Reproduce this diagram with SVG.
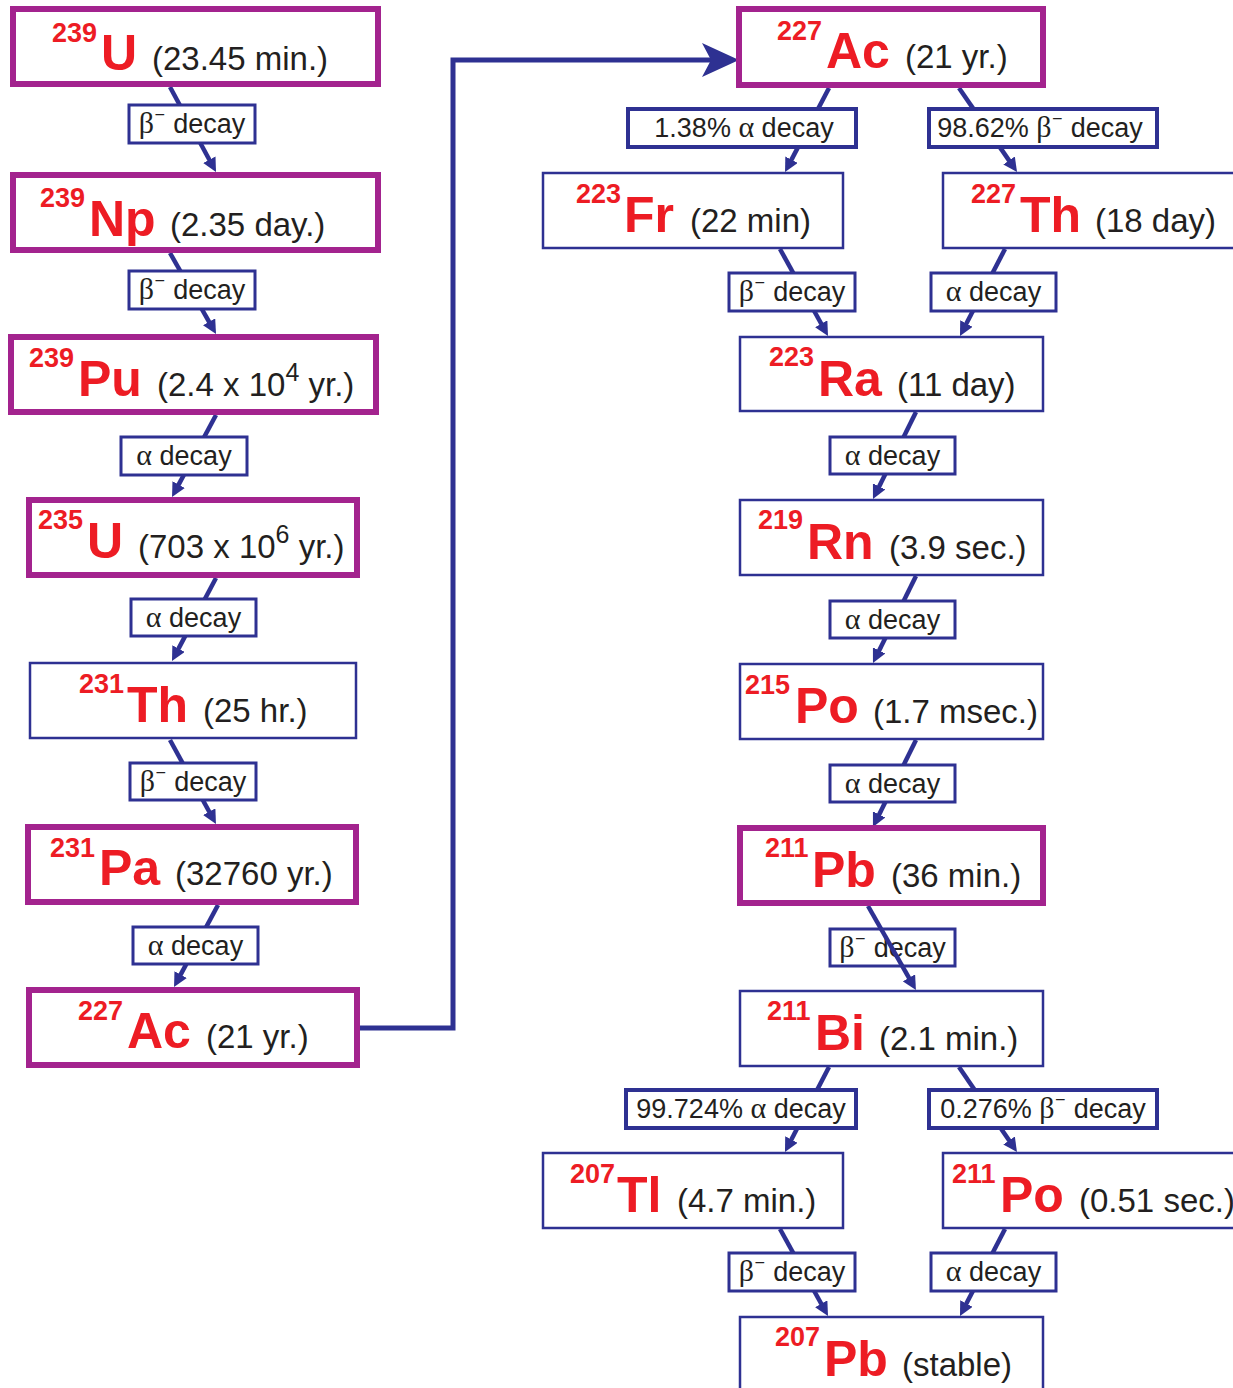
<svg xmlns="http://www.w3.org/2000/svg" width="1233" height="1388" viewBox="0 0 1233 1388">
<style>
.pn{fill:#fff;stroke:#A3238E;stroke-width:6}
.bn{fill:#fff;stroke:#2E3192;stroke-width:2.5}
.lb{fill:#fff;stroke:#2E3192;stroke-width:3}
.lb2{fill:#fff;stroke:#2E3192;stroke-width:4}
.m{font-family:"Liberation Sans",Arial,sans-serif;font-weight:bold;font-size:27px;fill:#ED1C24}
.s{font-family:"Liberation Sans",Arial,sans-serif;font-weight:bold;font-size:50px;fill:#ED1C24}
.t{font-family:"Liberation Sans",Arial,sans-serif;font-size:33px;fill:#231F20}
.l{font-family:"Liberation Sans",Arial,sans-serif;font-size:27px;fill:#231F20;text-anchor:middle}
.g{font-family:"Liberation Serif","DejaVu Serif",serif;font-size:30px}
.sm{font-family:"DejaVu Sans",sans-serif;font-weight:bold;font-size:22px}
.c{fill:none;stroke:#2E3192;stroke-width:4.5;marker-end:url(#ah)}
</style>
<defs>
<marker id="ah" markerUnits="userSpaceOnUse" viewBox="0 0 14 14" markerWidth="14" markerHeight="14" refX="2" refY="7" orient="auto">
<path d="M0,0 L14,7 L0,14 Z" fill="#2E3192"/>
</marker>
</defs>

<g id="connectors">
<line class="c" x1="170" y1="87" x2="210.3" y2="161.5"/>
<line class="c" x1="170" y1="253" x2="210.1" y2="323.6"/>
<line class="c" x1="216" y1="415" x2="177.7" y2="486.4"/>
<line class="c" x1="216" y1="578" x2="177.6" y2="650.4"/>
<line class="c" x1="170" y1="740" x2="210.2" y2="813.5"/>
<line class="c" x1="218" y1="905" x2="179.7" y2="976.4"/>
<path d="M357,1028 H453 V60 H712" fill="none" stroke="#2E3192" stroke-width="5"/>
<polygon points="739,60 702,43 711,60 702,77" fill="#2E3192"/>
<line class="c" x1="829" y1="88" x2="790.6" y2="161.4"/>
<line class="c" x1="959" y1="88" x2="1010.2" y2="162.1"/>
<line class="c" x1="780" y1="249" x2="822.2" y2="325.5"/>
<line class="c" x1="1005" y1="249" x2="965.5" y2="325.3"/>
<line class="c" x1="916" y1="412" x2="878.3" y2="488.2"/>
<line class="c" x1="916" y1="576" x2="878.3" y2="652.2"/>
<line class="c" x1="916" y1="740" x2="878.3" y2="816.2"/>
<line class="c" x1="829" y1="1067" x2="790.5" y2="1141.3"/>
<line class="c" x1="959" y1="1067" x2="1010.2" y2="1142.1"/>
<line class="c" x1="780" y1="1229" x2="822.2" y2="1305.5"/>
<line class="c" x1="1005" y1="1229" x2="965.5" y2="1305.3"/>

<g id="labels">
<rect class="lb" x="129" y="105" width="126" height="38"/>
<text class="l" x="192" y="133"><tspan class="g">β</tspan><tspan class="sm" dy="-7">⁻</tspan><tspan dy="7"> decay</tspan></text>
<rect class="lb" x="129" y="271" width="126" height="38"/>
<text class="l" x="192" y="299"><tspan class="g">β</tspan><tspan class="sm" dy="-7">⁻</tspan><tspan dy="7"> decay</tspan></text>
<rect class="lb" x="121" y="437" width="126" height="38"/>
<text class="l" x="184" y="465"><tspan class="g">α</tspan> decay</text>
<rect class="lb" x="131" y="599" width="125" height="37"/>
<text class="l" x="193.5" y="627"><tspan class="g">α</tspan> decay</text>
<rect class="lb" x="130" y="763" width="126" height="37"/>
<text class="l" x="193" y="791"><tspan class="g">β</tspan><tspan class="sm" dy="-7">⁻</tspan><tspan dy="7"> decay</tspan></text>
<rect class="lb" x="133" y="927" width="125" height="37"/>
<text class="l" x="195.5" y="955"><tspan class="g">α</tspan> decay</text>

<rect class="lb2" x="628" y="109" width="228" height="38"/>
<text class="l" x="744" y="137">1.38% <tspan class="g">α</tspan> decay</text>
<rect class="lb2" x="929" y="109" width="228" height="38"/>
<text class="l" x="1040" y="137">98.62% <tspan class="g">β</tspan><tspan class="sm" dy="-7">⁻</tspan><tspan dy="7"> decay</tspan></text>
<rect class="lb" x="729" y="273" width="126" height="38"/>
<text class="l" x="792" y="301"><tspan class="g">β</tspan><tspan class="sm" dy="-7">⁻</tspan><tspan dy="7"> decay</tspan></text>
<rect class="lb" x="931" y="273" width="125" height="38"/>
<text class="l" x="993.5" y="301"><tspan class="g">α</tspan> decay</text>
<rect class="lb" x="830" y="437" width="125" height="37"/>
<text class="l" x="892.5" y="465"><tspan class="g">α</tspan> decay</text>
<rect class="lb" x="830" y="601" width="125" height="37"/>
<text class="l" x="892.5" y="629"><tspan class="g">α</tspan> decay</text>
<rect class="lb" x="830" y="765" width="125" height="37"/>
<text class="l" x="892.5" y="793"><tspan class="g">α</tspan> decay</text>
<rect class="lb" x="830" y="929" width="125" height="37"/>
<text class="l" x="892.5" y="957"><tspan class="g">β</tspan><tspan class="sm" dy="-7">⁻</tspan><tspan dy="7"> decay</tspan></text>
<rect class="lb2" x="626" y="1090" width="230" height="38"/>
<text class="l" x="741" y="1118">99.724% <tspan class="g">α</tspan> decay</text>
<rect class="lb2" x="929" y="1090" width="228" height="38"/>
<text class="l" x="1043" y="1118">0.276% <tspan class="g">β</tspan><tspan class="sm" dy="-7">⁻</tspan><tspan dy="7"> decay</tspan></text>
<rect class="lb" x="729" y="1253" width="126" height="38"/>
<text class="l" x="792" y="1281"><tspan class="g">β</tspan><tspan class="sm" dy="-7">⁻</tspan><tspan dy="7"> decay</tspan></text>
<rect class="lb" x="931" y="1253" width="125" height="38"/>
<text class="l" x="993.5" y="1281"><tspan class="g">α</tspan> decay</text>
</g>
<line class="c" x1="868" y1="906" x2="910" y2="979.6"/>
</g>

<g id="n-u239">
<rect class="pn" x="13" y="9" width="365" height="75"/>
<text class="m" x="52" y="42">239</text><text class="s" x="101" y="70">U</text><text class="t" x="152" y="70">(23.45 min.)</text>
</g>
<g id="n-np239">
<rect class="pn" x="13" y="175" width="365" height="75"/>
<text class="m" x="40" y="207">239</text><text class="s" x="89" y="236">Np</text><text class="t" x="170" y="236">(2.35 day.)</text>
</g>
<g id="n-pu239">
<rect class="pn" x="11" y="337" width="365" height="75"/>
<text class="m" x="29" y="367">239</text><text class="s" x="78" y="396">Pu</text><text class="t" x="157" y="396">(2.4 x 10<tspan font-size="25" dy="-15">4</tspan><tspan dy="15"> yr.)</tspan></text>
</g>
<g id="n-u235">
<rect class="pn" x="29" y="500" width="328" height="75"/>
<text class="m" x="38" y="529">235</text><text class="s" x="87" y="558">U</text><text class="t" x="138" y="558">(703 x 10<tspan font-size="25" dy="-15">6</tspan><tspan dy="15"> yr.)</tspan></text>
</g>
<g id="n-th231">
<rect class="bn" x="30" y="663" width="326" height="75"/>
<text class="m" x="79" y="693">231</text><text class="s" x="127" y="722">Th</text><text class="t" x="203" y="722">(25 hr.)</text>
</g>
<g id="n-pa231">
<rect class="pn" x="28" y="827" width="328" height="75"/>
<text class="m" x="50" y="857">231</text><text class="s" x="99" y="885">Pa</text><text class="t" x="175" y="885">(32760 yr.)</text>
</g>
<g id="n-ac227-left">
<rect class="pn" x="29" y="990" width="328" height="75"/>
<text class="m" x="78" y="1020">227</text><text class="s" x="127" y="1048">Ac</text><text class="t" x="206" y="1048">(21 yr.)</text>
</g>

<g id="n-ac227-right">
<rect class="pn" x="739" y="9" width="304" height="76"/>
<text class="m" x="777" y="40">227</text><text class="s" x="826" y="68">Ac</text><text class="t" x="905" y="68">(21 yr.)</text>
</g>
<g id="n-fr223">
<rect class="bn" x="543" y="173" width="300" height="75"/>
<text class="m" x="576" y="203">223</text><text class="s" x="624" y="232">Fr</text><text class="t" x="690" y="232">(22 min)</text>
</g>
<g id="n-th227">
<rect class="bn" x="943" y="173" width="310" height="75"/>
<text class="m" x="971" y="203">227</text><text class="s" x="1020" y="232">Th</text><text class="t" x="1095" y="232">(18 day)</text>
</g>
<g id="n-ra223">
<rect class="bn" x="740" y="337" width="303" height="74"/>
<text class="m" x="769" y="366">223</text><text class="s" x="818" y="396">Ra</text><text class="t" x="897" y="396">(11 day)</text>
</g>
<g id="n-rn219">
<rect class="bn" x="740" y="500" width="303" height="75"/>
<text class="m" x="758" y="529">219</text><text class="s" x="807" y="559">Rn</text><text class="t" x="889" y="559">(3.9 sec.)</text>
</g>
<g id="n-po215">
<rect class="bn" x="740" y="664" width="303" height="75"/>
<text class="m" x="745" y="694">215</text><text class="s" x="795" y="723">Po</text><text class="t" x="873" y="723">(1.7 msec.)</text>
</g>
<g id="n-pb211">
<rect class="pn" x="740" y="828" width="303" height="75"/>
<text class="m" x="765" y="857">211</text><text class="s" x="812" y="887">Pb</text><text class="t" x="891" y="887">(36 min.)</text>
</g>
<g id="n-bi211">
<rect class="bn" x="740" y="991" width="303" height="75"/>
<text class="m" x="767" y="1020">211</text><text class="s" x="815" y="1050">Bi</text><text class="t" x="879" y="1050">(2.1 min.)</text>
</g>
<g id="n-tl207">
<rect class="bn" x="543" y="1153" width="300" height="75"/>
<text class="m" x="570" y="1183">207</text><text class="s" x="617" y="1212">Tl</text><text class="t" x="677" y="1212">(4.7 min.)</text>
</g>
<g id="n-po211">
<rect class="bn" x="943" y="1153" width="310" height="75"/>
<text class="m" x="952" y="1183">211</text><text class="s" x="1000" y="1212">Po</text><text class="t" x="1079" y="1212">(0.51 sec.)</text>
</g>
<g id="n-pb207">
<rect class="bn" x="740" y="1317" width="303" height="90"/>
<text class="m" x="775" y="1346">207</text><text class="s" x="824" y="1376">Pb</text><text class="t" x="902" y="1376">(stable)</text>
</g>
</svg>
